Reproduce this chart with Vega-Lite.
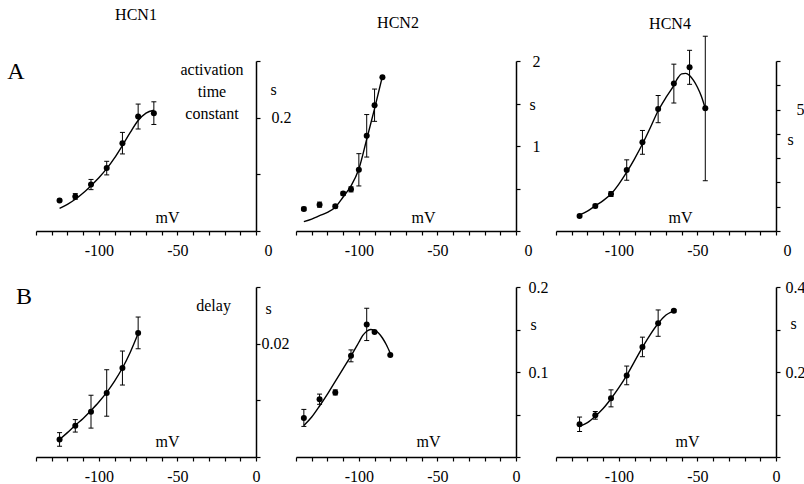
{
  "$schema": "https://vega.github.io/schema/vega-lite/v6.json",
  "background": "white",
  "padding": {"left": 7, "top": 7, "right": 0, "bottom": 0},
  "columns": 3,
  "bounds": "flush",
  "spacing": {"row": 56, "column": 40},
  "config": {
    "view": {"stroke": null},
    "font": "Liberation Serif",
    "axis": {"domainColor": "black", "domainWidth": 1.5, "tickColor": "black", "tickWidth": 1.2, "tickSize": 4, "labelColor": "black", "titleColor": "black", "labelFont": "Liberation Serif", "titleFont": "Liberation Serif", "labelFontSize": 16, "titleFontSize": 16, "titleFontWeight": "normal", "grid": false, "labelOverlap": false, "labelFlush": false, "labelBound": false},
    "title": {"font": "Liberation Serif", "fontSize": 16, "fontWeight": "normal", "color": "black", "frame": "group", "anchor": "middle"},
    "text": {"font": "Liberation Serif", "color": "black"}
  },
  "datasets": {
    "pts": [
      {"p": "A1", "v": -125, "t": 0.054, "lo": 0.052, "hi": 0.056},
      {"p": "A1", "v": -115, "t": 0.061, "lo": 0.056, "hi": 0.066},
      {"p": "A1", "v": -105, "t": 0.082, "lo": 0.073, "hi": 0.091},
      {"p": "A1", "v": -95, "t": 0.111, "lo": 0.099, "hi": 0.123},
      {"p": "A1", "v": -85, "t": 0.155, "lo": 0.136, "hi": 0.174},
      {"p": "A1", "v": -75, "t": 0.202, "lo": 0.180, "hi": 0.224},
      {"p": "A1", "v": -65, "t": 0.208, "lo": 0.188, "hi": 0.228},
      {"p": "A2", "v": -135, "t": 0.26, "lo": 0.24, "hi": 0.28},
      {"p": "A2", "v": -125, "t": 0.31, "lo": 0.28, "hi": 0.34},
      {"p": "A2", "v": -115, "t": 0.29, "lo": 0.27, "hi": 0.31},
      {"p": "A2", "v": -110, "t": 0.44, "lo": 0.42, "hi": 0.46},
      {"p": "A2", "v": -105, "t": 0.49, "lo": 0.46, "hi": 0.52},
      {"p": "A2", "v": -100, "t": 0.72, "lo": 0.53, "hi": 0.91},
      {"p": "A2", "v": -95, "t": 1.12, "lo": 0.87, "hi": 1.37},
      {"p": "A2", "v": -90, "t": 1.48, "lo": 1.29, "hi": 1.67},
      {"p": "A2", "v": -85, "t": 1.81, "lo": 1.81, "hi": 1.81},
      {"p": "A3", "v": -125, "t": 0.62, "lo": 0.57, "hi": 0.67},
      {"p": "A3", "v": -115, "t": 1.03, "lo": 0.96, "hi": 1.10},
      {"p": "A3", "v": -105, "t": 1.52, "lo": 1.42, "hi": 1.62},
      {"p": "A3", "v": -95, "t": 2.51, "lo": 2.09, "hi": 2.93},
      {"p": "A3", "v": -85, "t": 3.65, "lo": 3.16, "hi": 4.14},
      {"p": "A3", "v": -75, "t": 5.02, "lo": 4.46, "hi": 5.58},
      {"p": "A3", "v": -65, "t": 6.07, "lo": 5.27, "hi": 6.87},
      {"p": "A3", "v": -55, "t": 6.74, "lo": 6.04, "hi": 7.44},
      {"p": "A3", "v": -45, "t": 5.05, "lo": 2.07, "hi": 8.02},
      {"p": "B1", "v": -125, "t": 0.0031, "lo": 0.0019, "hi": 0.0043},
      {"p": "B1", "v": -115, "t": 0.0055, "lo": 0.0044, "hi": 0.0066},
      {"p": "B1", "v": -105, "t": 0.0080, "lo": 0.0051, "hi": 0.0109},
      {"p": "B1", "v": -95, "t": 0.0113, "lo": 0.0072, "hi": 0.0154},
      {"p": "B1", "v": -85, "t": 0.0157, "lo": 0.0127, "hi": 0.0187},
      {"p": "B1", "v": -75, "t": 0.0219, "lo": 0.0191, "hi": 0.0247},
      {"p": "B2", "v": -135, "t": 0.046, "lo": 0.036, "hi": 0.056},
      {"p": "B2", "v": -125, "t": 0.068, "lo": 0.062, "hi": 0.074},
      {"p": "B2", "v": -115, "t": 0.076, "lo": 0.073, "hi": 0.079},
      {"p": "B2", "v": -105, "t": 0.119, "lo": 0.112, "hi": 0.126},
      {"p": "B2", "v": -95, "t": 0.156, "lo": 0.137, "hi": 0.175},
      {"p": "B2", "v": -90, "t": 0.147, "lo": 0.147, "hi": 0.147},
      {"p": "B2", "v": -80, "t": 0.120, "lo": 0.120, "hi": 0.120},
      {"p": "B3", "v": -125, "t": 0.077, "lo": 0.060, "hi": 0.094},
      {"p": "B3", "v": -115, "t": 0.098, "lo": 0.089, "hi": 0.107},
      {"p": "B3", "v": -105, "t": 0.138, "lo": 0.118, "hi": 0.158},
      {"p": "B3", "v": -95, "t": 0.192, "lo": 0.170, "hi": 0.214},
      {"p": "B3", "v": -85, "t": 0.259, "lo": 0.236, "hi": 0.282},
      {"p": "B3", "v": -75, "t": 0.315, "lo": 0.284, "hi": 0.346},
      {"p": "B3", "v": -65, "t": 0.344, "lo": 0.341, "hi": 0.347}
    ],
    "fit": [
      {"p": "A1", "v": -125, "t": 0.040}, {"p": "A1", "v": -120, "t": 0.047}, {"p": "A1", "v": -115, "t": 0.056}, {"p": "A1", "v": -110, "t": 0.067}, {"p": "A1", "v": -105, "t": 0.080}, {"p": "A1", "v": -100, "t": 0.094}, {"p": "A1", "v": -95, "t": 0.110}, {"p": "A1", "v": -90, "t": 0.129}, {"p": "A1", "v": -85, "t": 0.151}, {"p": "A1", "v": -80, "t": 0.174}, {"p": "A1", "v": -75, "t": 0.195}, {"p": "A1", "v": -70, "t": 0.208}, {"p": "A1", "v": -65, "t": 0.213},
      {"p": "A2", "v": -135, "t": 0.11}, {"p": "A2", "v": -130, "t": 0.14}, {"p": "A2", "v": -125, "t": 0.18}, {"p": "A2", "v": -120, "t": 0.22}, {"p": "A2", "v": -115, "t": 0.28}, {"p": "A2", "v": -110, "t": 0.40}, {"p": "A2", "v": -105, "t": 0.53}, {"p": "A2", "v": -100, "t": 0.73}, {"p": "A2", "v": -95, "t": 1.08}, {"p": "A2", "v": -90, "t": 1.44}, {"p": "A2", "v": -85, "t": 1.82},
      {"p": "A3", "v": -125, "t": 0.66}, {"p": "A3", "v": -120, "t": 0.82}, {"p": "A3", "v": -115, "t": 1.04}, {"p": "A3", "v": -110, "t": 1.25}, {"p": "A3", "v": -105, "t": 1.52}, {"p": "A3", "v": -100, "t": 1.93}, {"p": "A3", "v": -95, "t": 2.42}, {"p": "A3", "v": -90, "t": 2.97}, {"p": "A3", "v": -85, "t": 3.58}, {"p": "A3", "v": -80, "t": 4.25}, {"p": "A3", "v": -75, "t": 4.95}, {"p": "A3", "v": -70, "t": 5.5}, {"p": "A3", "v": -65, "t": 6.0}, {"p": "A3", "v": -62.5, "t": 6.3}, {"p": "A3", "v": -60, "t": 6.47}, {"p": "A3", "v": -57.5, "t": 6.49}, {"p": "A3", "v": -55, "t": 6.40}, {"p": "A3", "v": -52.5, "t": 6.2}, {"p": "A3", "v": -50, "t": 5.92}, {"p": "A3", "v": -47.5, "t": 5.55}, {"p": "A3", "v": -45, "t": 5.05},
      {"p": "B1", "v": -125, "t": 0.0031}, {"p": "B1", "v": -120, "t": 0.0043}, {"p": "B1", "v": -115, "t": 0.0056}, {"p": "B1", "v": -110, "t": 0.0068}, {"p": "B1", "v": -105, "t": 0.0082}, {"p": "B1", "v": -100, "t": 0.0097}, {"p": "B1", "v": -95, "t": 0.0114}, {"p": "B1", "v": -90, "t": 0.0134}, {"p": "B1", "v": -85, "t": 0.0157}, {"p": "B1", "v": -80, "t": 0.0185}, {"p": "B1", "v": -75, "t": 0.0218},
      {"p": "B2", "v": -135, "t": 0.037}, {"p": "B2", "v": -130, "t": 0.047}, {"p": "B2", "v": -125, "t": 0.060}, {"p": "B2", "v": -120, "t": 0.074}, {"p": "B2", "v": -115, "t": 0.089}, {"p": "B2", "v": -110, "t": 0.104}, {"p": "B2", "v": -105, "t": 0.119}, {"p": "B2", "v": -100, "t": 0.135}, {"p": "B2", "v": -97.5, "t": 0.143}, {"p": "B2", "v": -95, "t": 0.148}, {"p": "B2", "v": -92.5, "t": 0.150}, {"p": "B2", "v": -90, "t": 0.149}, {"p": "B2", "v": -87.5, "t": 0.146}, {"p": "B2", "v": -85, "t": 0.140}, {"p": "B2", "v": -82.5, "t": 0.132}, {"p": "B2", "v": -80, "t": 0.122},
      {"p": "B3", "v": -125, "t": 0.072}, {"p": "B3", "v": -120, "t": 0.081}, {"p": "B3", "v": -115, "t": 0.096}, {"p": "B3", "v": -110, "t": 0.114}, {"p": "B3", "v": -105, "t": 0.137}, {"p": "B3", "v": -100, "t": 0.163}, {"p": "B3", "v": -95, "t": 0.192}, {"p": "B3", "v": -90, "t": 0.225}, {"p": "B3", "v": -85, "t": 0.258}, {"p": "B3", "v": -80, "t": 0.288}, {"p": "B3", "v": -75, "t": 0.314}, {"p": "B3", "v": -70, "t": 0.334}, {"p": "B3", "v": -65, "t": 0.344}
    ]
  },
  "concat": [
    {
      "width": 220, "height": 170,
      "title": {"text": "HCN1", "dx": -10, "offset": 30},
      "resolve": {"axis": {"x": "independent", "y": "independent"}},
      "layer": [
        {"data": {"name": "fit"}, "transform": [{"filter": "datum.p == 'A1'"}],
         "mark": {"type": "line", "color": "black", "strokeWidth": 1.4, "interpolate": "monotone"},
         "encoding": {
           "x": {"field": "v", "type": "quantitative", "scale": {"domain": [-140, 0], "nice": false, "zero": false},
                 "axis": {"values": [-140, -130, -120, -110, -100, -90, -80, -70, -60, -50, -40, -30, -20, -10, 0], "labelExpr": "datum.value == -100 ? '-100' : datum.value == -50 ? '-50' : datum.value == 0 ? '0' : ''", "labelOffset": {"condition": {"test": "datum.value == 0", "value": 12}, "value": 0}, "labelOverlap": false, "labelPadding": 7, "title": "mV", "titleX": 131, "titleY": -14, "titleAlign": "center", "titleBaseline": "middle"}},
           "y": {"field": "t", "type": "quantitative", "scale": {"domain": [0, 0.3], "nice": false},
                 "axis": {"orient": "right", "values": [0, 0.1, 0.2, 0.3], "labelExpr": "datum.value == 0.2 ? '0.2' : ''", "labelOverlap": false, "labelPadding": 11, "title": "s", "titleAngle": 0, "titleX": 17, "titleY": 28, "titleAlign": "center", "titleBaseline": "middle"}}
         }},
        {"data": {"name": "pts"}, "transform": [{"filter": "datum.p == 'A1'"}],
         "mark": {"type": "rule", "color": "black", "strokeWidth": 1},
         "encoding": {"x": {"field": "v", "type": "quantitative", "axis": null}, "y": {"field": "lo", "type": "quantitative", "axis": null}, "y2": {"field": "hi"}}},
        {"data": {"name": "pts"}, "transform": [{"filter": "datum.p == 'A1'"}],
         "mark": {"type": "tick", "orient": "horizontal", "size": 5, "thickness": 1, "color": "black", "opacity": 1},
         "encoding": {"x": {"field": "v", "type": "quantitative", "axis": null}, "y": {"field": "lo", "type": "quantitative", "axis": null}}},
        {"data": {"name": "pts"}, "transform": [{"filter": "datum.p == 'A1'"}],
         "mark": {"type": "tick", "orient": "horizontal", "size": 5, "thickness": 1, "color": "black", "opacity": 1},
         "encoding": {"x": {"field": "v", "type": "quantitative", "axis": null}, "y": {"field": "hi", "type": "quantitative", "axis": null}}},
        {"data": {"name": "pts"}, "transform": [{"filter": "datum.p == 'A1'"}],
         "mark": {"type": "circle", "size": 36, "color": "black", "opacity": 1},
         "encoding": {"x": {"field": "v", "type": "quantitative", "axis": null}, "y": {"field": "t", "type": "quantitative", "axis": null}}},
        {"data": {"values": [{}]},
         "mark": {"type": "text", "fontSize": 16, "lineHeight": 22, "align": "center", "baseline": "middle", "text": ["activation", "time", "constant"]},
         "encoding": {"x": {"datum": -28, "type": "quantitative", "axis": null}, "y": {"datum": 0.284, "type": "quantitative", "axis": null}}},
        {"data": {"values": [{}]},
         "mark": {"type": "text", "fontSize": 24, "align": "center", "baseline": "middle", "text": "A"},
         "encoding": {"x": {"datum": -152.7, "type": "quantitative", "axis": null}, "y": {"datum": 0.281, "type": "quantitative", "axis": null}}}
      ]
    },
    {
      "width": 220, "height": 170,
      "title": {"text": "HCN2", "dx": -8, "offset": 22},
      "resolve": {"axis": {"x": "independent", "y": "independent"}},
      "layer": [
        {"data": {"name": "fit"}, "transform": [{"filter": "datum.p == 'A2'"}],
         "mark": {"type": "line", "color": "black", "strokeWidth": 1.4, "interpolate": "monotone"},
         "encoding": {
           "x": {"field": "v", "type": "quantitative", "scale": {"domain": [-140, 0], "nice": false, "zero": false},
                 "axis": {"values": [-140, -130, -120, -110, -100, -90, -80, -70, -60, -50, -40, -30, -20, -10, 0], "labelExpr": "datum.value == -100 ? '-100' : datum.value == -50 ? '-50' : datum.value == 0 ? '0' : ''", "labelOffset": {"condition": {"test": "datum.value == 0", "value": 12}, "value": 0}, "labelOverlap": false, "labelPadding": 7, "title": "mV", "titleX": 127, "titleY": -14, "titleAlign": "center", "titleBaseline": "middle"}},
           "y": {"field": "t", "type": "quantitative", "scale": {"domain": [0, 2], "nice": false},
                 "axis": {"orient": "right", "values": [0, 0.5, 1, 1.5, 2], "labelExpr": "datum.value == 2 ? '2' : datum.value == 1 ? '1' : ''", "labelOverlap": false, "labelPadding": 12, "title": "s", "titleAngle": 0, "titleX": 16, "titleY": 43, "titleAlign": "center", "titleBaseline": "middle"}}
         }},
        {"data": {"name": "pts"}, "transform": [{"filter": "datum.p == 'A2'"}],
         "mark": {"type": "rule", "color": "black", "strokeWidth": 1},
         "encoding": {"x": {"field": "v", "type": "quantitative", "axis": null}, "y": {"field": "lo", "type": "quantitative", "axis": null}, "y2": {"field": "hi"}}},
        {"data": {"name": "pts"}, "transform": [{"filter": "datum.p == 'A2'"}],
         "mark": {"type": "tick", "orient": "horizontal", "size": 5, "thickness": 1, "color": "black", "opacity": 1},
         "encoding": {"x": {"field": "v", "type": "quantitative", "axis": null}, "y": {"field": "lo", "type": "quantitative", "axis": null}}},
        {"data": {"name": "pts"}, "transform": [{"filter": "datum.p == 'A2'"}],
         "mark": {"type": "tick", "orient": "horizontal", "size": 5, "thickness": 1, "color": "black", "opacity": 1},
         "encoding": {"x": {"field": "v", "type": "quantitative", "axis": null}, "y": {"field": "hi", "type": "quantitative", "axis": null}}},
        {"data": {"name": "pts"}, "transform": [{"filter": "datum.p == 'A2'"}],
         "mark": {"type": "circle", "size": 36, "color": "black", "opacity": 1},
         "encoding": {"x": {"field": "v", "type": "quantitative", "axis": null}, "y": {"field": "t", "type": "quantitative", "axis": null}}}
      ]
    },
    {
      "width": 220, "height": 170,
      "title": {"text": "HCN4", "dx": 4, "offset": 4},
      "resolve": {"axis": {"x": "independent", "y": "independent"}},
      "layer": [
        {"data": {"name": "fit"}, "transform": [{"filter": "datum.p == 'A3'"}],
         "mark": {"type": "line", "color": "black", "strokeWidth": 1.4, "interpolate": "monotone"},
         "encoding": {
           "x": {"field": "v", "type": "quantitative", "scale": {"domain": [-140, 0], "nice": false, "zero": false},
                 "axis": {"values": [-140, -130, -120, -110, -100, -90, -80, -70, -60, -50, -40, -30, -20, -10, 0], "labelExpr": "datum.value == -100 ? '-100' : datum.value == -50 ? '-50' : datum.value == 0 ? '0' : ''", "labelOffset": {"condition": {"test": "datum.value == 0", "value": 11}, "value": 0}, "labelOverlap": false, "labelPadding": 7, "title": "mV", "titleX": 124, "titleY": -14, "titleAlign": "center", "titleBaseline": "middle"}},
           "y": {"field": "t", "type": "quantitative", "scale": {"domain": [0, 7], "nice": false},
                 "axis": {"orient": "right", "values": [0, 1, 2, 3, 4, 5, 6, 7], "labelExpr": "datum.value == 5 ? '5' : ''", "labelOverlap": false, "labelPadding": 16, "title": "s", "titleAngle": 0, "titleX": 14, "titleY": 78, "titleAlign": "center", "titleBaseline": "middle"}}
         }},
        {"data": {"name": "pts"}, "transform": [{"filter": "datum.p == 'A3'"}],
         "mark": {"type": "rule", "color": "black", "strokeWidth": 1},
         "encoding": {"x": {"field": "v", "type": "quantitative", "axis": null}, "y": {"field": "lo", "type": "quantitative", "axis": null}, "y2": {"field": "hi"}}},
        {"data": {"name": "pts"}, "transform": [{"filter": "datum.p == 'A3'"}],
         "mark": {"type": "tick", "orient": "horizontal", "size": 5, "thickness": 1, "color": "black", "opacity": 1},
         "encoding": {"x": {"field": "v", "type": "quantitative", "axis": null}, "y": {"field": "lo", "type": "quantitative", "axis": null}}},
        {"data": {"name": "pts"}, "transform": [{"filter": "datum.p == 'A3'"}],
         "mark": {"type": "tick", "orient": "horizontal", "size": 5, "thickness": 1, "color": "black", "opacity": 1},
         "encoding": {"x": {"field": "v", "type": "quantitative", "axis": null}, "y": {"field": "hi", "type": "quantitative", "axis": null}}},
        {"data": {"name": "pts"}, "transform": [{"filter": "datum.p == 'A3'"}],
         "mark": {"type": "circle", "size": 36, "color": "black", "opacity": 1},
         "encoding": {"x": {"field": "v", "type": "quantitative", "axis": null}, "y": {"field": "t", "type": "quantitative", "axis": null}}}
      ]
    },
    {
      "width": 220, "height": 170,
      "resolve": {"axis": {"x": "independent", "y": "independent"}},
      "layer": [
        {"data": {"name": "fit"}, "transform": [{"filter": "datum.p == 'B1'"}],
         "mark": {"type": "line", "color": "black", "strokeWidth": 1.4, "interpolate": "monotone"},
         "encoding": {
           "x": {"field": "v", "type": "quantitative", "scale": {"domain": [-140, 0], "nice": false, "zero": false},
                 "axis": {"values": [-140, -130, -120, -110, -100, -90, -80, -70, -60, -50, -40, -30, -20, -10, 0], "labelExpr": "datum.value == -100 ? '-100' : datum.value == -50 ? '-50' : datum.value == 0 ? '0' : ''", "labelOverlap": false, "labelPadding": 7, "title": "mV", "titleX": 131, "titleY": -16, "titleAlign": "center", "titleBaseline": "middle"}},
           "y": {"field": "t", "type": "quantitative", "scale": {"domain": [0, 0.03], "nice": false},
                 "axis": {"orient": "right", "values": [0, 0.01, 0.02, 0.03], "labelExpr": "datum.value == 0.02 ? '0.02' : ''", "labelOverlap": false, "labelPadding": 1, "title": "s", "titleAngle": 0, "titleX": 12, "titleY": 21, "titleAlign": "center", "titleBaseline": "middle"}}
         }},
        {"data": {"name": "pts"}, "transform": [{"filter": "datum.p == 'B1'"}],
         "mark": {"type": "rule", "color": "black", "strokeWidth": 1},
         "encoding": {"x": {"field": "v", "type": "quantitative", "axis": null}, "y": {"field": "lo", "type": "quantitative", "axis": null}, "y2": {"field": "hi"}}},
        {"data": {"name": "pts"}, "transform": [{"filter": "datum.p == 'B1'"}],
         "mark": {"type": "tick", "orient": "horizontal", "size": 5, "thickness": 1, "color": "black", "opacity": 1},
         "encoding": {"x": {"field": "v", "type": "quantitative", "axis": null}, "y": {"field": "lo", "type": "quantitative", "axis": null}}},
        {"data": {"name": "pts"}, "transform": [{"filter": "datum.p == 'B1'"}],
         "mark": {"type": "tick", "orient": "horizontal", "size": 5, "thickness": 1, "color": "black", "opacity": 1},
         "encoding": {"x": {"field": "v", "type": "quantitative", "axis": null}, "y": {"field": "hi", "type": "quantitative", "axis": null}}},
        {"data": {"name": "pts"}, "transform": [{"filter": "datum.p == 'B1'"}],
         "mark": {"type": "circle", "size": 36, "color": "black", "opacity": 1},
         "encoding": {"x": {"field": "v", "type": "quantitative", "axis": null}, "y": {"field": "t", "type": "quantitative", "axis": null}}},
        {"data": {"values": [{}]},
         "mark": {"type": "text", "fontSize": 16, "align": "center", "baseline": "middle", "text": "delay"},
         "encoding": {"x": {"datum": -27, "type": "quantitative", "axis": null}, "y": {"datum": 0.0267, "type": "quantitative", "axis": null}}},
        {"data": {"values": [{}]},
         "mark": {"type": "text", "fontSize": 24, "align": "center", "baseline": "middle", "text": "B"},
         "encoding": {"x": {"datum": -147.6, "type": "quantitative", "axis": null}, "y": {"datum": 0.0282, "type": "quantitative", "axis": null}}}
      ]
    },
    {
      "width": 220, "height": 170,
      "resolve": {"axis": {"x": "independent", "y": "independent"}},
      "layer": [
        {"data": {"name": "fit"}, "transform": [{"filter": "datum.p == 'B2'"}],
         "mark": {"type": "line", "color": "black", "strokeWidth": 1.4, "interpolate": "monotone"},
         "encoding": {
           "x": {"field": "v", "type": "quantitative", "scale": {"domain": [-140, 0], "nice": false, "zero": false},
                 "axis": {"values": [-140, -130, -120, -110, -100, -90, -80, -70, -60, -50, -40, -30, -20, -10, 0], "labelExpr": "datum.value == -100 ? '-100' : datum.value == -50 ? '-50' : datum.value == 0 ? '0' : ''", "labelOverlap": false, "labelPadding": 7, "title": "mV", "titleX": 132, "titleY": -16, "titleAlign": "center", "titleBaseline": "middle"}},
           "y": {"field": "t", "type": "quantitative", "scale": {"domain": [0, 0.2], "nice": false},
                 "axis": {"orient": "right", "values": [0, 0.05, 0.1, 0.15, 0.2], "labelExpr": "datum.value == 0.2 ? '0.2' : datum.value == 0.1 ? '0.1' : ''", "labelOverlap": false, "labelPadding": 8, "title": "s", "titleAngle": 0, "titleX": 17, "titleY": 37, "titleAlign": "center", "titleBaseline": "middle"}}
         }},
        {"data": {"name": "pts"}, "transform": [{"filter": "datum.p == 'B2'"}],
         "mark": {"type": "rule", "color": "black", "strokeWidth": 1},
         "encoding": {"x": {"field": "v", "type": "quantitative", "axis": null}, "y": {"field": "lo", "type": "quantitative", "axis": null}, "y2": {"field": "hi"}}},
        {"data": {"name": "pts"}, "transform": [{"filter": "datum.p == 'B2'"}],
         "mark": {"type": "tick", "orient": "horizontal", "size": 5, "thickness": 1, "color": "black", "opacity": 1},
         "encoding": {"x": {"field": "v", "type": "quantitative", "axis": null}, "y": {"field": "lo", "type": "quantitative", "axis": null}}},
        {"data": {"name": "pts"}, "transform": [{"filter": "datum.p == 'B2'"}],
         "mark": {"type": "tick", "orient": "horizontal", "size": 5, "thickness": 1, "color": "black", "opacity": 1},
         "encoding": {"x": {"field": "v", "type": "quantitative", "axis": null}, "y": {"field": "hi", "type": "quantitative", "axis": null}}},
        {"data": {"name": "pts"}, "transform": [{"filter": "datum.p == 'B2'"}],
         "mark": {"type": "circle", "size": 36, "color": "black", "opacity": 1},
         "encoding": {"x": {"field": "v", "type": "quantitative", "axis": null}, "y": {"field": "t", "type": "quantitative", "axis": null}}}
      ]
    },
    {
      "width": 220, "height": 170,
      "resolve": {"axis": {"x": "independent", "y": "independent"}},
      "layer": [
        {"data": {"name": "fit"}, "transform": [{"filter": "datum.p == 'B3'"}],
         "mark": {"type": "line", "color": "black", "strokeWidth": 1.4, "interpolate": "monotone"},
         "encoding": {
           "x": {"field": "v", "type": "quantitative", "scale": {"domain": [-140, 0], "nice": false, "zero": false},
                 "axis": {"values": [-140, -130, -120, -110, -100, -90, -80, -70, -60, -50, -40, -30, -20, -10, 0], "labelExpr": "datum.value == -100 ? '-100' : datum.value == -50 ? '-50' : datum.value == 0 ? '0' : ''", "labelOverlap": false, "labelPadding": 7, "title": "mV", "titleX": 131, "titleY": -16, "titleAlign": "center", "titleBaseline": "middle"}},
           "y": {"field": "t", "type": "quantitative", "scale": {"domain": [0, 0.4], "nice": false},
                 "axis": {"orient": "right", "values": [0, 0.1, 0.2, 0.3, 0.4], "labelExpr": "datum.value == 0.4 ? '0.4' : datum.value == 0.2 ? '0.2' : ''", "labelOverlap": false, "labelPadding": 5, "title": "s", "titleAngle": 0, "titleX": 17, "titleY": 36, "titleAlign": "center", "titleBaseline": "middle"}}
         }},
        {"data": {"name": "pts"}, "transform": [{"filter": "datum.p == 'B3'"}],
         "mark": {"type": "rule", "color": "black", "strokeWidth": 1},
         "encoding": {"x": {"field": "v", "type": "quantitative", "axis": null}, "y": {"field": "lo", "type": "quantitative", "axis": null}, "y2": {"field": "hi"}}},
        {"data": {"name": "pts"}, "transform": [{"filter": "datum.p == 'B3'"}],
         "mark": {"type": "tick", "orient": "horizontal", "size": 5, "thickness": 1, "color": "black", "opacity": 1},
         "encoding": {"x": {"field": "v", "type": "quantitative", "axis": null}, "y": {"field": "lo", "type": "quantitative", "axis": null}}},
        {"data": {"name": "pts"}, "transform": [{"filter": "datum.p == 'B3'"}],
         "mark": {"type": "tick", "orient": "horizontal", "size": 5, "thickness": 1, "color": "black", "opacity": 1},
         "encoding": {"x": {"field": "v", "type": "quantitative", "axis": null}, "y": {"field": "hi", "type": "quantitative", "axis": null}}},
        {"data": {"name": "pts"}, "transform": [{"filter": "datum.p == 'B3'"}],
         "mark": {"type": "circle", "size": 36, "color": "black", "opacity": 1},
         "encoding": {"x": {"field": "v", "type": "quantitative", "axis": null}, "y": {"field": "t", "type": "quantitative", "axis": null}}}
      ]
    }
  ]
}
